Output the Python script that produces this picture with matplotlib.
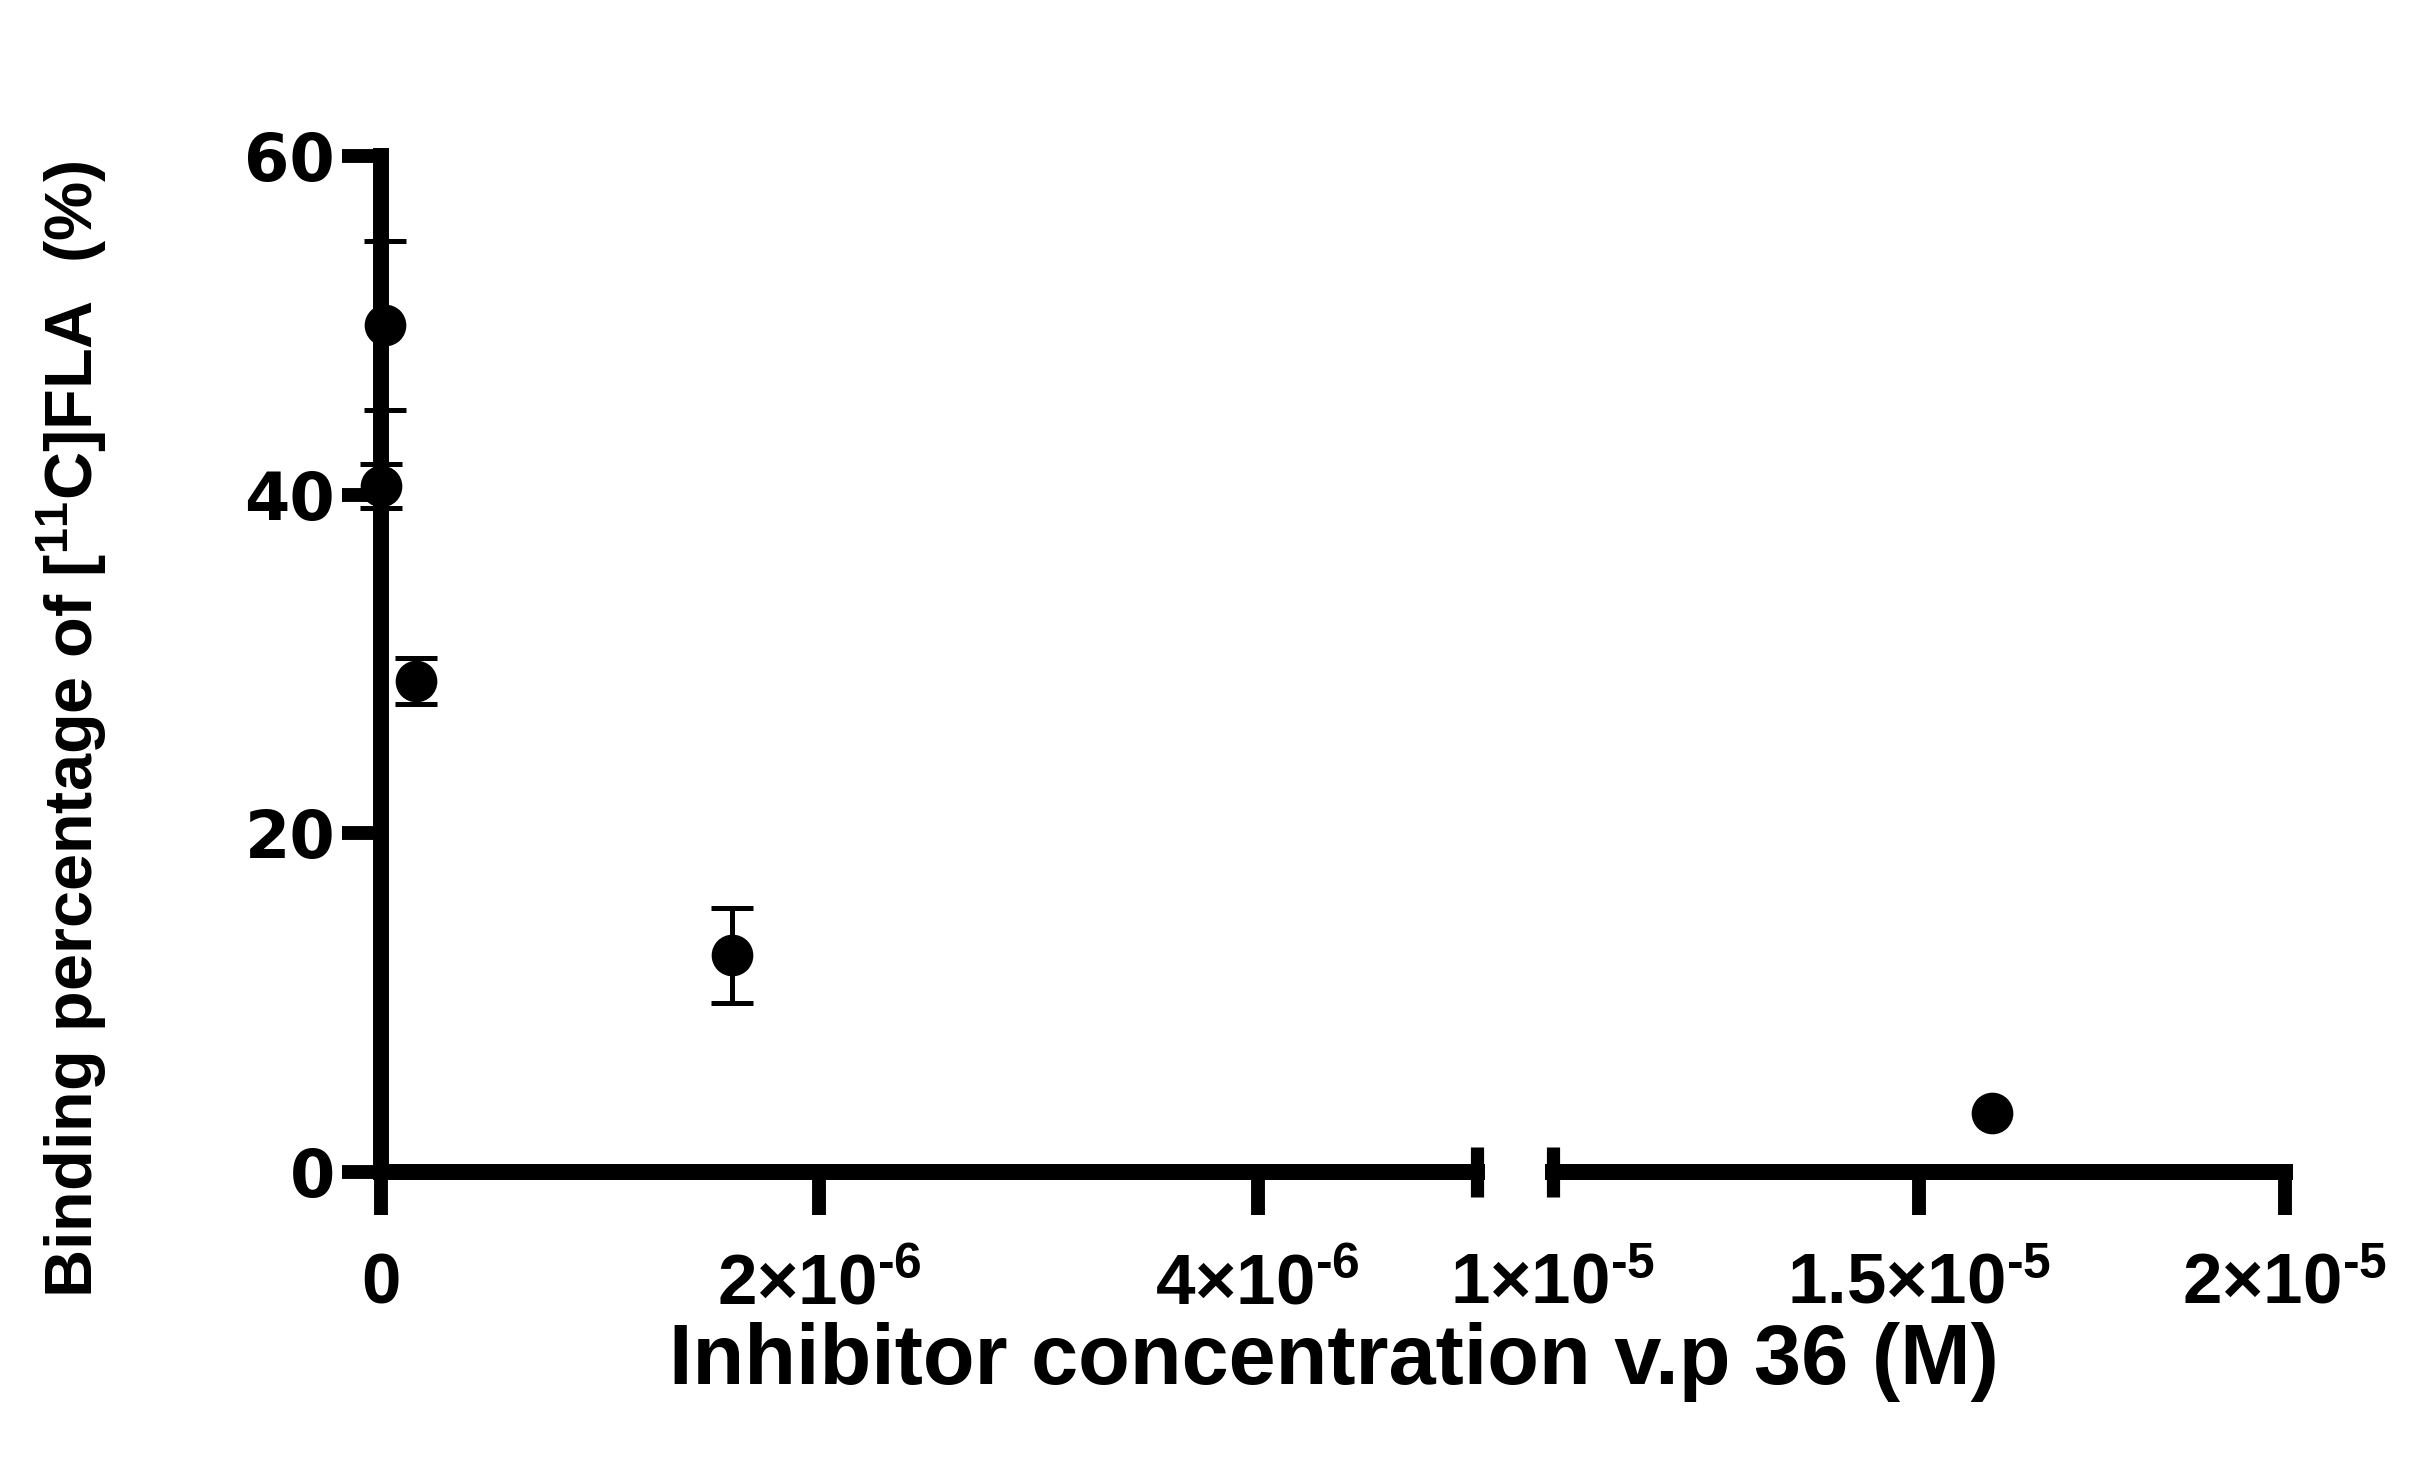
import matplotlib
matplotlib.use("Agg")
import matplotlib.pyplot as plt

plt.rcParams['font.family'] = ['Liberation Sans', 'DejaVu Sans']
plt.rcParams['font.weight'] = 'bold'
plt.rcParams['mathtext.fontset'] = 'custom'
plt.rcParams['mathtext.rm'] = 'Liberation Sans:bold'
plt.rcParams['mathtext.it'] = 'Liberation Sans:bold'
plt.rcParams['mathtext.bf'] = 'Liberation Sans:bold'
plt.rcParams['mathtext.default'] = 'rm'

# 数据: 浓度(M), 结合百分比(%), 误差
conc = [1.6e-9, 1.6e-8, 1.6e-7, 1.6e-6, 1.6e-5]
binding = [40.5, 50.0, 29.0, 12.8, 3.5]
err = [1.3, 5.0, 1.35, 2.8, 0.0]

left_ticks = [0, 2e-6, 4e-6]
left_labels = ['0', r'$2×10^{\text{-}6}$', r'$4×10^{\text{-}6}$']
right_ticks = [1e-5, 1.5e-5, 2e-5]
right_labels = [r'$1×10^{\text{-}5}$', r'$1.5×10^{\text{-}5}$', r'$2×10^{\text{-}5}$']
y_ticks = [0, 20, 40, 60]

W, H = 2418, 1465
fig = plt.figure(figsize=(W/100, H/100), dpi=100)
bot = 1 - 1172/H
hgt = (1172 - 156)/H
ax1 = fig.add_axes([381/W, bot, (1477-381)/W, hgt])
ax2 = fig.add_axes([1553/W, bot, (2285-1553)/W, hgt])

lw = 11.5
for ax in (ax1, ax2):
    ax.spines['top'].set_visible(False)
    ax.spines['right'].set_visible(False)
    for s in ax.spines.values():
        s.set_linewidth(lw)
    ax.set_ylim(0, 60)
    ax.tick_params(axis='x', direction='out', length=31, width=10, pad=27, labelsize=51)
    ax.tick_params(axis='y', direction='out', length=28, width=10, pad=5)

ax1.set_xlim(0, 5e-6)
ax2.set_xlim(1e-5, 2e-5)

# 左段
xl = [c for c in conc if c <= 5e-6]
n = len(xl)
ax1.errorbar(xl, binding[:n], yerr=err[:n], fmt='o', color='black', markersize=29,
             elinewidth=3.6, capsize=15, capthick=3.6, clip_on=False, zorder=5)
# 右段
ax2.plot(conc[n:], binding[n:], 'o', color='black', markersize=29, clip_on=False, zorder=5)

ax1.set_xticks(left_ticks)
ax1.set_xticklabels(left_labels)
ax1.set_yticks(y_ticks)
ax1.set_yticklabels([str(v) for v in y_ticks], fontfamily='DejaVu Sans', fontweight='bold', fontsize=47)

ax2.set_xticks(right_ticks)
ax2.set_xticklabels(right_labels)
ax2.xaxis.get_major_ticks()[0].tick1line.set_visible(False)
ax2.spines['left'].set_visible(False)
ax2.set_yticks([])

# 断轴标记
ax1.plot([1], [0], transform=ax1.transAxes, marker='|', markersize=36, mew=9.5,
         color='black', clip_on=False)
ax2.plot([0], [0], transform=ax2.transAxes, marker='|', markersize=36, mew=9.5,
         color='black', clip_on=False)

fig.text(72/W, 1-729/H, 'Binding percentage of [$^{11}$C]FLA  (%)', rotation=90,
         ha='center', va='center', fontsize=48, fontweight='bold')
fig.text(1334/W, 1-1362/H, 'Inhibitor concentration v.p 36 (M)',
         ha='center', va='center', fontsize=61, fontweight='bold')

fig.savefig('out.png', dpi=100)
